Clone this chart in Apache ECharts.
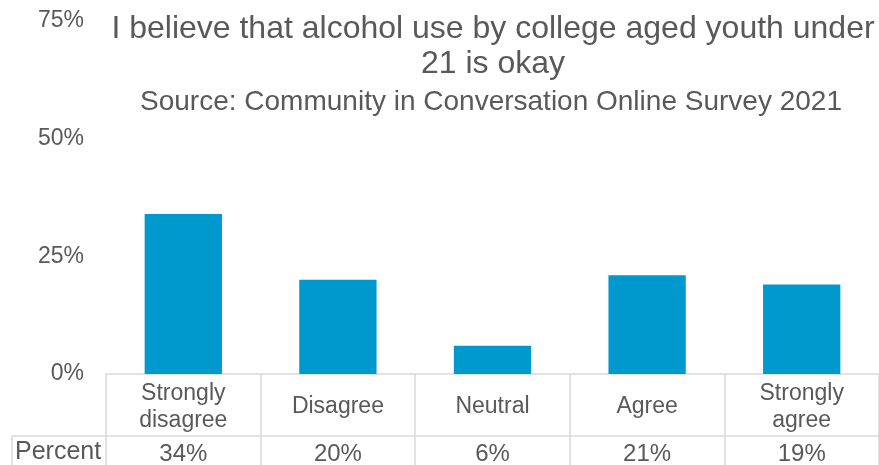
<!DOCTYPE html>
<html>
<head>
<meta charset="utf-8">
<script src="https://cdn.jsdelivr.net/npm/echarts@6/dist/echarts.min.js"></script>
<style>
  html, body { margin: 0; padding: 0; background: #fff; }
  #chart { width: 879px; height: 465px; }
</style>
</head>
<body>
<div id="chart"></div>
<script>
// Survey responses and their shares
const categories = ['Strongly\ndisagree', 'Disagree', 'Neutral', 'Agree', 'Strongly\nagree'];
const percentValues = [34, 20, 6, 21, 19];
const yTicks = [0, 25, 50, 75];
const rowHeader = 'Percent';

const textColor = '#595959';
const gridLineColor = '#d9d9d9';
const barColor = '#0099CE';
const font = 'Liberation Sans, Arial, sans-serif';

const chart = echarts.init(document.getElementById('chart'), null, { renderer: 'canvas' });

chart.setOption({
  animation: false,
  backgroundColor: '#ffffff',
  title: [{
    text: 'I believe that alcohol use by college aged youth under\n21 is okay',
    left: 488,
    top: 7,
    textAlign: 'center',
    textStyle: { fontFamily: font, fontSize: 32, fontWeight: 'normal', color: textColor, lineHeight: 35 }
  }, {
    text: 'Source: Community in Conversation Online Survey 2021',
    left: 486,
    top: 82,
    textAlign: 'center',
    textStyle: { fontFamily: font, fontSize: 28, fontWeight: 'normal', color: textColor, lineHeight: 30 }
  }],
  grid: [
    { left: 106, right: 0, top: 21, bottom: 91 },
    { left: 106, right: 0, top: 436, height: 40 }
  ],
  xAxis: [{
    gridIndex: 0,
    type: 'category',
    data: categories,
    boundaryGap: true,
    axisLine: { show: true, lineStyle: { color: gridLineColor, width: 1.5 } },
    axisTick: { show: true, interval: 0, length: 62, lineStyle: { color: gridLineColor, width: 1.5 } },
    axisLabel: {
      interval: 0, margin: 33, fontFamily: font, fontSize: 23, color: textColor,
      lineHeight: 27, verticalAlign: 'middle'
    }
  }, {
    gridIndex: 1,
    type: 'category',
    position: 'top',
    data: percentValues.map(v => v + '%'),
    boundaryGap: true,
    axisLine: { show: true, onZero: false, lineStyle: { color: gridLineColor, width: 1.5 } },
    axisTick: { show: true, inside: true, interval: 0, length: 40, lineStyle: { color: gridLineColor, width: 1.5 } },
    axisLabel: {
      inside: true, interval: 0, margin: 18, verticalAlign: 'middle',
      fontFamily: font, fontSize: 24, color: textColor
    }
  }],
  yAxis: [{
    gridIndex: 0,
    type: 'value',
    min: yTicks[0] / 100,
    max: yTicks[yTicks.length - 1] / 100,
    interval: (yTicks[1] - yTicks[0]) / 100,
    axisLine: { show: false },
    axisTick: { show: false },
    splitLine: { show: false },
    axisLabel: {
      margin: 22, fontFamily: font, fontSize: 23, color: textColor,
      formatter: v => Math.round(v * 100) + '%'
    }
  }, {
    gridIndex: 1,
    type: 'value',
    show: false
  }],
  series: [{
    type: 'bar',
    xAxisIndex: 0,
    yAxisIndex: 0,
    data: percentValues.map(v => v / 100),
    barWidth: '50%',
    itemStyle: { color: barColor },
    silent: true
  }],
  graphic: [{
    type: 'line',
    shape: { x1: 12, y1: 436, x2: 106, y2: 436 },
    style: { stroke: gridLineColor, lineWidth: 1.5 },
    silent: true
  }, {
    type: 'line',
    shape: { x1: 12, y1: 436, x2: 12, y2: 470 },
    style: { stroke: gridLineColor, lineWidth: 1.5 },
    silent: true
  }, {
    type: 'text',
    left: 15,
    top: 440,
    style: { text: rowHeader, font: '25px ' + font, fill: textColor },
    silent: true
  }]
});
</script>
</body>
</html>
